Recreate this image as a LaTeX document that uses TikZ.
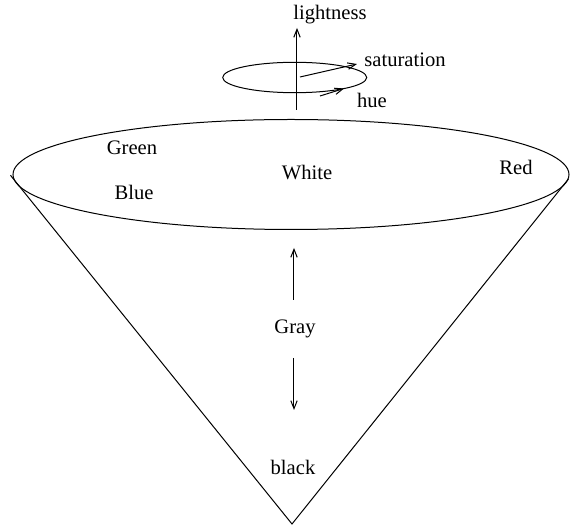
\documentclass[tikz,border=0pt]{standalone}
\usepackage{fontspec}
\setmainfont{Liberation Serif}
\usetikzlibrary{arrows.meta}
\begin{document}
\begin{tikzpicture}[x=0.5pt,y=-0.5pt,
  line width=0.5pt,
  lbl/.style={inner sep=0pt,font=\fontsize{10.3}{12}\selectfont},
  arr/.style={-{Straight Barb[length=4pt,width=3.2pt]}}]
\useasboundingbox (0,0) rectangle (570,529);
% big ellipse and cone
\draw (291,174.5) ellipse [x radius=139pt, y radius=27.5pt];
\coordinate (L) at (10.5,175.3);
\coordinate (R) at (568.5,178.9);
\coordinate (A) at (292,524);
\draw (L) -- (A) -- (R);
% small ellipse
\draw (294.7,77.5) ellipse [x radius=36pt, y radius=7.6pt];
% axes
\coordinate (lb) at (297,110);
\coordinate (lt) at (297,28);
\draw[arr] (lb) -- (lt);
\coordinate (s0) at (300,77);
\coordinate (s1) at (357,64);
\draw[arr] (s0) -- (s1);
\coordinate (h0) at (320,96);
\coordinate (h1) at (344,88.5);
\draw[arr] (h0) -- (h1);
% labels
\node[lbl] (light) at (330,15) {lightness};
\node[lbl] (sat) at (405,60) {saturation};
\node[lbl] (hue) at (372,100) {hue};
\node[lbl] (green) at (132,148) {Green};
\node[lbl] (blue) at (134,192) {Blue};
\node[lbl] (white) at (307,173) {White};
\node[lbl] (red) at (516,167) {Red};
\node[lbl] (gray) at (295,329) {Gray};
\node[lbl] (black) at (293,467) {black};
% gray arrows
\coordinate (gu0) at (294,300);
\coordinate (gu1) at (294,248);
\coordinate (gd0) at (294,358);
\coordinate (gd1) at (294,410);
\draw[arr] (gu0) -- (gu1);
\draw[arr] (gd0) -- (gd1);
\end{tikzpicture}
\end{document}
